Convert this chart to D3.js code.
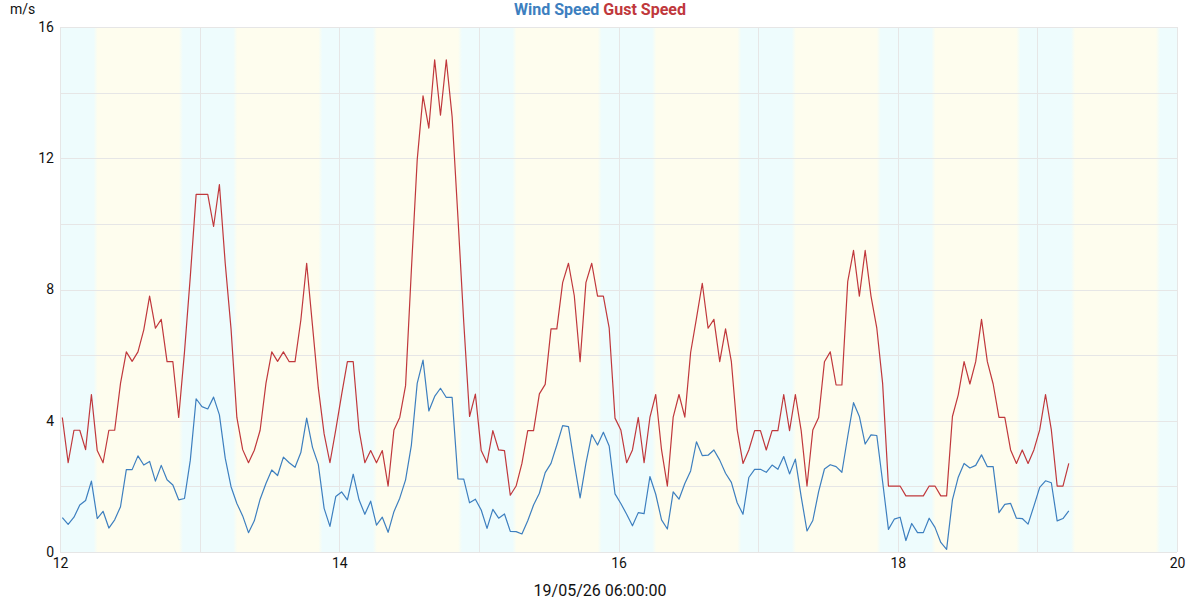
<!DOCTYPE html>
<html><head><meta charset="utf-8">
<script src="https://cdn.jsdelivr.net/npm/d3@7"></script>
<style>
html,body{margin:0;padding:0;background:#fff;}
svg{display:block;font-family:Roboto,"Noto Sans",sans-serif;}
</style></head>
<body>
<svg id="chart" width="1200" height="600"></svg>
<script>
// ---- data ----
const startDay = 12 + 0.4 / 24;       // first sample (day units)
const stepDay = 1 / 24;               // hourly samples
const windSpeed = [1.05,0.84,1.06,1.43,1.57,2.16,1.02,1.24,0.73,0.98,1.38,2.51,2.51,2.93,2.65,2.76,2.16,2.64,2.20,2.04,
1.59,1.63,2.80,4.67,4.43,4.36,4.72,4.18,2.86,1.99,1.48,1.10,0.59,0.95,1.61,2.09,2.50,2.33,2.89,2.72,
2.58,3.03,4.08,3.19,2.67,1.33,0.78,1.69,1.83,1.59,2.37,1.59,1.15,1.55,0.82,1.06,0.60,1.23,1.64,2.20,
3.26,5.14,5.85,4.30,4.74,4.99,4.71,4.71,2.23,2.22,1.50,1.61,1.28,0.72,1.30,1.03,1.16,0.63,0.62,0.55,
0.95,1.43,1.79,2.42,2.70,3.26,3.85,3.82,2.70,1.65,2.70,3.58,3.26,3.65,3.23,1.77,1.48,1.15,0.80,1.20,
1.17,2.30,1.76,0.98,0.70,1.83,1.61,2.09,2.47,3.36,2.94,2.95,3.11,2.80,2.40,2.12,1.50,1.15,2.27,2.52,
2.52,2.43,2.65,2.52,2.91,2.38,2.83,1.69,0.64,0.96,1.84,2.53,2.66,2.60,2.43,3.52,4.55,4.13,3.29,3.57,
3.55,2.14,0.69,1.00,1.06,0.35,0.87,0.59,0.59,1.03,0.75,0.29,0.08,1.59,2.28,2.70,2.56,2.64,2.96,2.60,
2.60,1.20,1.45,1.48,1.03,1.02,0.85,1.40,1.97,2.17,2.11,0.95,1.02,1.25];
const gustSpeed = [4.10,2.72,3.71,3.71,3.12,4.80,3.09,2.72,3.71,3.71,5.14,6.10,5.81,6.10,6.77,7.80,6.82,7.09,5.80,5.80,
4.10,6.10,8.40,10.90,10.90,10.90,9.92,11.20,8.80,6.80,4.10,3.12,2.72,3.10,3.71,5.14,6.10,5.81,6.10,5.80,
5.80,7.07,8.80,6.90,5.00,3.60,2.72,3.72,4.79,5.80,5.80,3.72,2.72,3.09,2.72,3.09,2.01,3.72,4.10,5.07,
8.60,11.95,13.90,12.92,15.00,13.31,15.00,13.27,10.20,7.00,4.13,4.81,3.09,2.72,3.70,3.11,3.09,1.73,2.01,2.70,
3.70,3.70,4.82,5.11,6.80,6.80,8.21,8.80,7.81,5.80,8.21,8.80,7.80,7.80,6.82,4.08,3.72,2.72,3.11,4.10,
2.72,4.10,4.80,3.11,2.01,4.11,4.80,4.11,6.08,7.12,8.19,6.82,7.09,5.80,6.80,5.80,3.72,2.70,3.11,3.70,
3.70,3.11,3.70,3.70,4.80,3.70,4.80,3.70,2.01,3.72,4.10,5.80,6.10,5.09,5.09,8.24,9.19,7.80,9.19,7.80,
6.82,5.14,2.01,2.01,2.01,1.71,1.71,1.71,1.71,2.01,2.01,1.71,1.71,4.13,4.79,5.80,5.12,5.80,7.09,5.80,
5.12,4.10,4.10,3.11,2.70,3.11,2.70,3.11,3.72,4.80,3.72,2.01,2.01,2.70];
const sunrise = [12.255,13.255,14.255,15.255,16.256,17.256,18.256,19.256];
const sunset  = [12.866,13.865,14.865,15.865,16.865,17.864,18.864,19.864];
const xTicks = [12,14,16,18,20];
const yTicks = [0,4,8,12,16];
const seriesNames = ["Wind Speed","Gust Speed"];
const yUnit = "m/s";
const xTitle = "19/05/26 06:00:00";

// ---- layout ----
const svg = d3.select("#chart");
const L = 60, R = 1177, T = 27, B = 552;
const x = d3.scaleLinear().domain([12,20]).range([L,R]);
const y = d3.scaleLinear().domain([0,16]).range([B,T]);
const cyan = "#eefcfd", yellow = "#fefdee";
const blue = "#3d7fbf", red = "#c0383c";

// background bands as a horizontal gradient
const defs = svg.append("defs");
const grad = defs.append("linearGradient").attr("id","bands")
  .attr("gradientUnits","userSpaceOnUse").attr("x1",L).attr("x2",R).attr("y1",0).attr("y2",0);
const bounds = [];
sunrise.forEach(d => bounds.push({t:d, from:cyan, to:yellow}));
sunset.forEach(d => bounds.push({t:d, from:yellow, to:cyan}));
bounds.sort((a,b)=>a.t-b.t);
const W = R - L;
const stops = [{o:0,c:cyan}];
bounds.forEach(b => {
  const px = x(b.t);
  stops.push({o:(px-2-L)/W, c:b.from});
  stops.push({o:(px+2-L)/W, c:b.to});
});
stops.push({o:1,c:cyan});
grad.selectAll("stop").data(stops).join("stop")
  .attr("offset",d=>Math.max(0,Math.min(1,d.o))).attr("stop-color",d=>d.c);
svg.append("rect").attr("x",L).attr("y",T).attr("width",W).attr("height",B-T).attr("fill","url(#bands)");

// grid
const grid = svg.append("g").attr("stroke","#e6e6e6").attr("stroke-width",1).attr("shape-rendering","crispEdges");
grid.selectAll(".h").data(d3.range(0,17,2)).join("line")
  .attr("x1",L).attr("x2",R).attr("y1",d=>Math.round(y(d))+0.5).attr("y2",d=>Math.round(y(d))+0.5);
grid.selectAll(".v").data(d3.range(12,21,1)).join("line")
  .attr("y1",T).attr("y2",B).attr("x1",d=>Math.round(x(d))+0.5).attr("x2",d=>Math.round(x(d))+0.5);

// axes
const xAxis = svg.append("g").attr("transform",`translate(0,${B})`)
  .call(d3.axisBottom(x).tickValues(xTicks).tickSize(0).tickPadding(6).tickFormat(d3.format("d")));
xAxis.select(".domain").remove();
xAxis.selectAll("text").attr("font-size",14).attr("fill","#111").attr("font-family","Roboto");
const yAxis = svg.append("g").attr("transform",`translate(${L},0)`)
  .call(d3.axisLeft(y).tickValues(yTicks).tickSize(0).tickPadding(6).tickFormat(d3.format("d")));
yAxis.select(".domain").remove();
yAxis.selectAll("text").attr("font-size",14).attr("fill","#111").attr("font-family","Roboto");

// lines
const line = d3.line().x((d,i)=>x(startDay + i*stepDay)).y(d=>y(d));
svg.append("path").datum(gustSpeed).attr("d",line).attr("fill","none")
  .attr("stroke",red).attr("stroke-width",1.2).attr("stroke-linejoin","round");
svg.append("path").datum(windSpeed).attr("d",line).attr("fill","none")
  .attr("stroke",blue).attr("stroke-width",1.2).attr("stroke-linejoin","round");

// texts
svg.append("text").attr("x",10).attr("y",14).attr("font-size",14).attr("fill","#111").text(yUnit);
const title = svg.append("text").attr("x",600).attr("y",15).attr("text-anchor","middle")
  .attr("font-size",16).attr("font-weight","bold");
title.append("tspan").attr("fill",blue).text(seriesNames[0]);
title.append("tspan").attr("fill",red).text(" " + seriesNames[1]);
svg.append("text").attr("x",600).attr("y",596).attr("text-anchor","middle")
  .attr("font-size",16).attr("fill","#111").text(xTitle);
</script>
</body></html>
